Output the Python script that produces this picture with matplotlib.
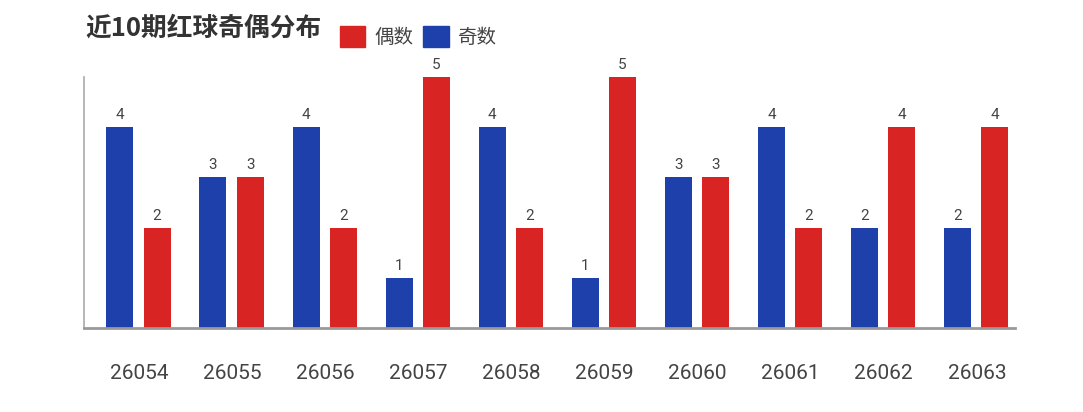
import numpy as np
import matplotlib.pyplot as plt
from matplotlib.patches import Patch

plt.rcParams['font.family'] = ['Noto Sans CJK SC', 'DejaVu Sans']

# data
periods = ['26054', '26055', '26056', '26057', '26058',
           '26059', '26060', '26061', '26062', '26063']
odd = [4, 3, 4, 1, 4, 1, 3, 4, 2, 2]      # 奇数
even = [2, 3, 2, 5, 2, 5, 3, 2, 4, 4]     # 偶数

blue = '#1e40aa'
red = '#d92424'
grey = '#444444'

fig = plt.figure(figsize=(10.83, 4.12), dpi=100)
ax = fig.add_axes([84/1083, 84/412, (1015-84)/1083, (328-77)/412])

x = np.arange(len(periods))
w = 0.29
b1 = ax.bar(x - 0.205, odd, w, color=blue)
b2 = ax.bar(x + 0.195, even, w, color=red)

for bars in (b1, b2):
    for r in bars:
        ax.text(r.get_x() + r.get_width()/2, r.get_height() + 0.1,
                str(int(r.get_height())), ha='center', va='bottom',
                fontsize=11, color=grey, family='Roboto')

ax.set_xlim(-0.59, 9.41)
ax.set_ylim(0, 5)
ax.set_yticks([])
ax.set_xticks(x)
ax.set_xticklabels(periods, family='Roboto', fontsize=15, color=grey)
ax.tick_params(axis='x', length=0, pad=26)

for s in ('top', 'right'):
    ax.spines[s].set_visible(False)
ax.spines['left'].set_color('#aaaaaa')
ax.spines['left'].set_linewidth(1.2)
ax.spines['bottom'].set_color('#999999')
ax.spines['bottom'].set_linewidth(2)

fig.text(85/1083, 1 - 28/412, '近10期红球奇偶分布', fontsize=18.5, fontweight='bold',
         color='#333333', va='center', ha='left')

handles = [Patch(color=red, label='偶数'), Patch(color=blue, label='奇数')]
leg = fig.legend(handles=handles, loc='center left', bbox_to_anchor=(322/1083, 1 - 37/412),
                 ncol=2, frameon=False, handlelength=1.3, handleheight=1.3,
                 handletextpad=0.5, columnspacing=0.5, fontsize=14)
for t in leg.get_texts():
    t.set_color(grey)

fig.savefig('out.png', dpi=100)
